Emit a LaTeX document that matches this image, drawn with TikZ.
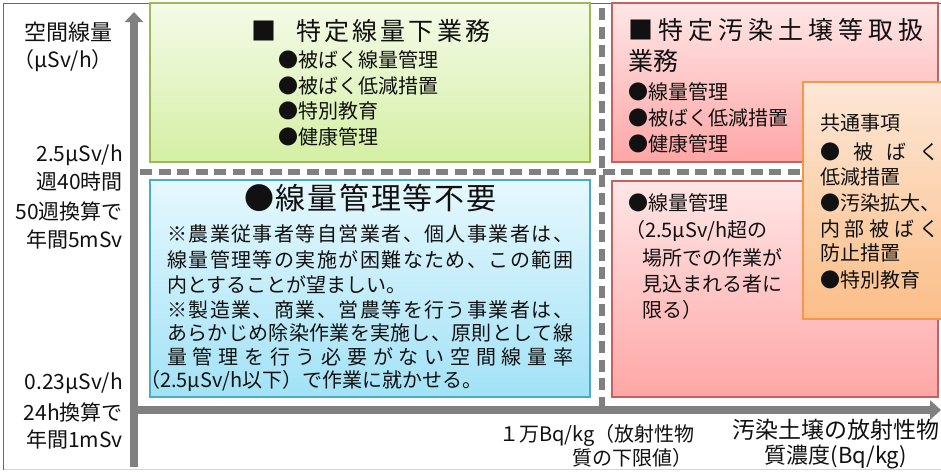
\documentclass[tikz,border=0pt]{standalone}
\usepackage{fontspec}
\setmainfont{Noto Sans CJK JP}
\usetikzlibrary{arrows.meta}
\definecolor{axgray}{HTML}{808080}
\definecolor{frameblue}{HTML}{4A6FA5}
\definecolor{framegray}{HTML}{D4D4D4}
\definecolor{txt}{HTML}{111111}
\definecolor{gtop}{HTML}{F4FBE8}\definecolor{gbot}{HTML}{D5EFA4}\definecolor{gline}{HTML}{9BBB59}
\definecolor{btop}{HTML}{E6F8FE}\definecolor{bbot}{HTML}{A2E2F6}\definecolor{bline}{HTML}{4BACC6}
\definecolor{rtop}{HTML}{FFE6E6}\definecolor{rbot}{HTML}{FFA6A6}\definecolor{rline}{HTML}{C9605D}
\definecolor{otop}{HTML}{FDE7D6}\definecolor{obot}{HTML}{FBBE88}\definecolor{oline}{HTML}{F79646}
\makeatletter
\newcommand\spreadline[2]{\makebox[#1][s]{\let\sp@sep\relax\@tfor\sp@c:=#2\do{\sp@sep\sp@c\let\sp@sep\hfill}}}
\makeatother
\tikzset{
  lbl/.style={inner sep=0pt, anchor=west, text=txt, font=\fontsize{20}{24}\selectfont},
  lblr/.style={lbl, anchor=east, font=\fontsize{21}{24}\selectfont},
  ttl/.style={lbl, font=\fontsize{25}{28}\selectfont},
  axisline/.style={draw=axgray, line width=8.5pt},
  dashline/.style={draw=axgray, line width=5.5pt, dash pattern=on 12pt off 6.5pt},
  greenbox/.style={draw=gline, line width=1.5pt, top color=gtop, bottom color=gbot},
  bluebox/.style={draw=bline, line width=1.5pt, top color=btop, bottom color=bbot},
  redbox/.style={draw=rline, line width=1.5pt, top color=rtop, bottom color=rbot},
  orangebox/.style={draw=oline, line width=1.5pt, top color=otop, bottom color=obot},
}
\begin{document}
\begin{tikzpicture}[x=1pt,y=-1pt]
\useasboundingbox (0,0) rectangle (941,472);
\clip (0,0) rectangle (941,472);
\fill[white] (0,0) rectangle (941,472);
% outer frame
\coordinate (fbl) at (3.5,469.5);
\coordinate (ftl) at (3.5,3.5);
\coordinate (ftr) at (941,3.5);
\coordinate (fbr) at (941,469.5);
\draw[framegray, line width=1.2pt] (fbl) -- (fbr);
\draw[frameblue, line width=1.2pt] (fbl) -- (ftl) -- (ftr);
% axes
\coordinate (yb) at (134,467);
\coordinate (yt) at (134,12);
\coordinate (xl) at (130,410);
\coordinate (xr) at (941,410);
\draw[axisline, -{Triangle[width=18pt,length=10pt]}] (yb) -- (yt);
\draw[axisline, -{Triangle[width=19pt,length=11pt]}] (xl) -- (xr);
% dashed separators
\coordinate (hl) at (140,172);
\coordinate (hr) at (941,172);
\coordinate (vt) at (602,8);
\coordinate (vb) at (602,407);
\draw[dashline] (hl) -- (hr);
\draw[dashline] (vt) -- (vb);
% boxes
\draw[greenbox] (150,3) rectangle (590,162);
\draw[bluebox] (150,180) rectangle (590,397);
\draw[redbox] (612,3) rectangle (938,162);
\draw[redbox] (612,181) rectangle (938,397);
\draw[orangebox] (803,82) rectangle (955,319);
% left labels
\node[lblr, font=\fontsize{22}{24}\selectfont] (ya1) at (113,32) {空間線量};
\node[lblr] (ya2) at (113,61) {（μSv/h）};
\node[lblr] (h1) at (123,155) {2.5μSv/h};
\node[lblr] (h2) at (123,182) {週40時間};
\node[lblr] (h3) at (123,211) {50週換算で};
\node[lblr] (h4) at (123,239) {年間5mSv};
\node[lblr] (l1) at (123,383) {0.23μSv/h};
\node[lblr] (l2) at (123,412) {24h換算で};
\node[lblr] (l3) at (123,439) {年間1mSv};
% green box text
\node[ttl] (gsq) at (251,31) {■};
\node[ttl] (gt) at (296,31) {\spreadline{194pt}{特定線量下業務}};
\node[lbl] (g1) at (278,60) {●被ばく線量管理};
\node[lbl] (g2) at (278,86) {●被ばく低減措置};
\node[lbl] (g3) at (278,111) {●特別教育};
\node[lbl] (g4) at (278,137) {●健康管理};
% blue box text
\node[lbl, font=\fontsize{30}{32}\selectfont] (bt) at (244,198) {\spreadline{252pt}{●線量管理等不要}};
\node[lbl] (b1) at (167,234) {\spreadline{406pt}{※農業従事者等自営業者、個人事業者は、}};
\node[lbl] (b2) at (167,260) {\spreadline{406pt}{線量管理等の実施が困難なため、この範囲}};
\node[lbl] (b3) at (167,285) {内とすることが望ましい。};
\node[lbl] (b4) at (167,310) {\spreadline{406pt}{※製造業、商業、営農等を行う事業者は、}};
\node[lbl] (b5) at (167,333) {\spreadline{406pt}{あらかじめ除染作業を実施し、原則として線}};
\node[lbl] (b6) at (167,357) {\spreadline{406pt}{量管理を行う必要がない空間線量率}};
\node[lbl] (b7) at (140,381) {（2.5μSv/h以下）で作業に就かせる。};
% red top text
\node[ttl] (rt1) at (628,30) {\spreadline{295pt}{■特定汚染土壌等取扱}};
\node[ttl] (rt2) at (628,61) {業務};
\node[lbl] (r1) at (628,92) {●線量管理};
\node[lbl] (r2) at (628,118) {●被ばく低減措置};
\node[lbl] (r3) at (628,144) {●健康管理};
% red bottom text
\node[lbl] (s1) at (628,203) {●線量管理};
\node[lbl] (s2) at (625,231) {（2.5μSv/h超の};
\node[lbl] (s3) at (642,258) {場所での作業が};
\node[lbl] (s4) at (642,284) {見込まれる者に};
\node[lbl] (s5) at (642,310) {限る）};
% orange box text
\node[lbl] (o1) at (820,123) {共通事項};
\node[lbl] (o2) at (820,152) {\spreadline{119pt}{●被ばく}};
\node[lbl] (o3) at (820,177) {低減措置};
\node[lbl] (o4) at (820,203) {\spreadline{119pt}{●汚染拡大、}};
\node[lbl] (o5) at (820,229) {\spreadline{119pt}{内部被ばく}};
\node[lbl] (o6) at (820,253) {防止措置};
\node[lbl] (o7) at (820,280) {●特別教育};
% bottom labels
\node[lbl, anchor=east] (x1) at (695,435) {１万Bq/kg（放射性物};
\node[lbl, anchor=east] (x2) at (693,458) {質の下限値）};
\node[lbl, anchor=center, font=\fontsize{23}{26}\selectfont] (x3) at (836,430) {汚染土壌の放射性物};
\node[lbl, anchor=center, font=\fontsize{22}{26}\selectfont] (x4) at (836,457) {質濃度(Bq/kg)};
\end{tikzpicture}
\end{document}
